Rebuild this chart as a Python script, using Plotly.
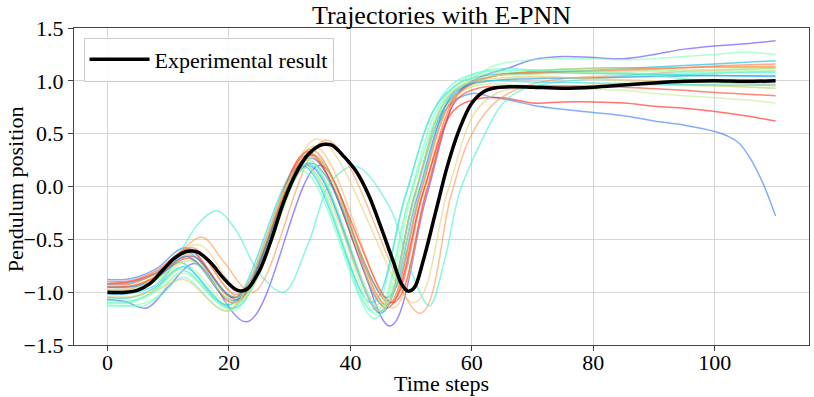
import math
import plotly.graph_objects as go

# Experimental (reference) pendulum trajectory, (time step, position)
EXPERIMENT = [
    (0, -1.0), (3, -1.0), (5, -0.98), (7, -0.92), (9, -0.8), (11, -0.68), (13, -0.615),
    (14, -0.61), (15, -0.625), (17, -0.72), (19, -0.86), (21, -0.97), (22, -0.99),
    (23, -0.97), (25, -0.8), (27, -0.5), (29, -0.15), (31, 0.12), (33, 0.3), (35, 0.39),
    (36, 0.4), (37, 0.39), (39, 0.28), (41, 0.14), (43, -0.08), (45, -0.38), (47, -0.7),
    (48.5, -0.93), (49.5, -0.99), (50.5, -0.96), (52, -0.7), (54, -0.25), (56, 0.2),
    (58, 0.55), (60, 0.79), (62, 0.9), (64, 0.935), (67, 0.945), (70, 0.94), (75, 0.93),
    (80, 0.94), (85, 0.96), (90, 0.98), (95, 0.995), (100, 1.0), (105, 0.995), (110, 1.0),
]

# E-PNN predicted trajectories, keypoints
RUN_01 = [(0, -1.07), (3, -1.09), (6.5, -1.15), (10, -0.95), (14.5, -0.73), (23, -1.28), (35, 0.2),
          (46.5, -1.32), (52.5, -0.1), (58, 0.9), (62, 1.05), (66, 1.12), (70, 1.2), (75, 1.23),
          (80, 1.22), (85, 1.21), (90, 1.25), (95, 1.3), (100, 1.33), (105, 1.35), (110, 1.38)]
RUN_02 = [(0, -0.88), (4, -0.87), (8, -0.78), (13, -0.58), (21, -1.05), (33.5, 0.27), (45.5, -1.12),
          (51, -0.1), (56, 0.75), (60, 0.88), (63, 0.85), (66, 0.82), (70, 0.77), (75, 0.73),
          (80, 0.7), (85, 0.67), (90, 0.62), (95, 0.58), (100, 0.52), (102, 0.48), (104, 0.41),
          (106, 0.25), (108, 0.02), (110, -0.28)]
RUN_03 = [(0, -0.92), (4, -0.9), (8, -0.82), (14, -0.66), (21.5, -1.07), (33, 0.33), (46, -1.15),
          (52, -0.05), (57, 0.72), (61, 0.83), (65, 0.84), (70, 0.79), (75, 0.8), (80, 0.8),
          (85, 0.79), (90, 0.76), (95, 0.74), (100, 0.71), (105, 0.67), (110, 0.62)]
RUN_04 = [(0, -1.1), (4, -1.09), (8, -0.97), (12, -0.62), (15, -0.35), (18, -0.23), (21, -0.4),
          (25, -0.82), (29, -1.0), (33, -0.55), (37, 0.06), (41, 0.19), (46.5, -0.2), (50, -0.8),
          (53, -1.13), (55.5, -0.7), (58, -0.05), (61.5, 0.42), (65, 0.78), (68, 0.91), (72, 0.97),
          (80, 1.02), (85, 1.04), (90, 1.05), (95, 1.06), (100, 1.07), (105, 1.08), (110, 1.08)]
RUN_05 = [(0, -0.98), (4, -0.97), (9, -0.8), (15.5, -0.48), (19, -0.7), (24, -1.0), (36, 0.44),
          (51.5, -1.2), (56.5, -0.1), (59.5, 0.44), (63, 0.75), (66, 0.88), (70, 0.97), (75, 1.02),
          (80, 1.04), (85, 1.05), (90, 1.07), (95, 1.09), (100, 1.1), (105, 1.11), (110, 1.12)]
RUN_06 = [(0, -1.12), (5, -1.12), (8, -1.05), (12.5, -0.8), (20.5, -1.15), (32.5, 0.2), (44, -1.2),
          (49.5, -0.15), (54, 0.62), (57, 0.9), (60, 1.02), (64, 1.15), (70, 1.2), (75, 1.21),
          (80, 1.21), (85, 1.2), (90, 1.21), (95, 1.23), (100, 1.25), (105, 1.27), (110, 1.25)]
RUN_07 = [(0, -1.05), (5, -1.04), (9, -0.92), (13, -0.75), (21, -1.12), (33, 0.25), (45, -1.15),
          (50.5, -0.1), (55.5, 0.75), (59, 0.92), (63, 0.97), (70, 0.95), (75, 0.93), (80, 0.92),
          (85, 0.91), (90, 0.88), (95, 0.86), (100, 0.84), (105, 0.82), (110, 0.79)]
RUN_08 = [(0, -0.95), (5, -0.93), (9, -0.78), (15, -0.55), (22.5, -1.02), (34.5, 0.45), (50.5, -1.1),
          (56, -0.05), (60.5, 0.7), (64, 0.88), (68, 0.94), (75, 0.95), (80, 0.96), (90, 0.96),
          (100, 0.95), (110, 0.93)]
RUN_09 = [(0, -0.9), (4, -0.89), (8, -0.8), (13.5, -0.6), (21, -1.05), (33, 0.3), (46.5, -1.1),
          (52, -0.05), (57, 0.82), (60, 0.98), (64, 1.05), (70, 1.09), (75, 1.11), (80, 1.12),
          (90, 1.12), (100, 1.13), (110, 1.13)]
RUN_10 = [(0, -0.92), (4, -0.91), (8, -0.82), (13, -0.62), (21.5, -1.05), (33.5, 0.22), (46, -1.05),
          (51.5, -0.05), (56.5, 0.85), (60, 0.98), (64, 1.05), (70, 1.07), (80, 1.1), (90, 1.13),
          (100, 1.16), (110, 1.19)]
RUN_11 = [(0, -1.02), (4, -1.01), (8, -0.93), (12, -0.72), (20, -1.12), (32, 0.2), (43.5, -1.1),
          (49, -0.1), (54, 0.75), (58, 0.98), (62, 1.05), (70, 1.08), (80, 1.07), (90, 1.06),
          (100, 1.05), (110, 1.05)]
RUN_12 = [(0, -1.08), (4, -1.08), (8, -0.98), (12, -0.78), (20.5, -1.15), (32.5, 0.18), (43.5, -1.17),
          (49, -0.1), (53.5, 0.7), (57, 0.98), (61, 1.08), (66, 1.12), (70, 1.1), (80, 1.08),
          (90, 1.07), (100, 1.08), (110, 1.09)]
RUN_13 = [(0, -1.1), (4, -1.1), (8, -1.0), (12.5, -0.82), (21, -1.17), (33, 0.26), (44.5, -1.22),
          (50, -0.1), (54.5, 0.72), (58, 0.98), (62, 1.06), (70, 1.1), (80, 1.12), (90, 1.1),
          (100, 1.11), (110, 1.12)]
RUN_14 = [(0, -1.0), (4, -0.99), (8, -0.9), (14, -0.7), (21.5, -1.08), (34, 0.3), (46, -1.12),
          (51.5, -0.05), (56.5, 0.8), (60, 0.95), (66, 1.02), (75, 1.03), (85, 1.0), (95, 0.97),
          (110, 0.93)]
RUN_15 = [(0, -0.97), (4, -0.96), (8, -0.85), (14.5, -0.63), (22, -1.05), (34, 0.38), (47, -1.15),
          (52.5, -0.05), (57.5, 0.85), (61, 1.0), (65, 1.06), (70, 1.08), (80, 1.1), (90, 1.12),
          (100, 1.13), (110, 1.14)]
RUN_16 = [(0, -0.93), (4, -0.92), (8, -0.82), (14, -0.58), (21.5, -1.02), (33.5, 0.35), (46, -1.12),
          (51.5, -0.08), (56.5, 0.8), (60, 0.97), (64, 1.05), (70, 1.08), (80, 1.09), (90, 1.11),
          (100, 1.14), (110, 1.16)]
RUN_17 = [(0, -0.95), (4, -0.94), (8, -0.86), (13.5, -0.68), (21, -1.1), (33.5, 0.3), (47, -1.1),
          (52.5, -0.05), (57.5, 0.82), (61, 0.93), (66, 0.95), (75, 0.95), (85, 0.94), (95, 0.91),
          (100, 0.89), (110, 0.86)]
RUN_18 = [(0, -0.95), (4, -0.95), (8, -0.88), (13, -0.66), (21, -1.08), (33, 0.2), (45, -1.2),
          (50.5, -0.1), (55.5, 0.75), (59, 0.95), (63, 1.0), (70, 1.02), (80, 1.03), (90, 1.04),
          (100, 1.05), (110, 1.04)]
RUN_19 = [(0, -1.13), (3, -1.13), (6, -1.13), (9, -1.02), (12.5, -0.86), (20, -1.18), (32, 0.15),
          (44, -1.25), (49.5, -0.15), (54, 0.7), (57.5, 0.97), (61, 1.07), (66, 1.1), (75, 1.1),
          (85, 1.08), (95, 1.02), (110, 0.95)]
RUN_20 = [(0, -1.05), (4, -1.05), (8, -0.95), (12.5, -0.76), (21, -1.15), (33, 0.22), (45, -1.18),
          (50.5, -0.1), (55.5, 0.8), (59, 0.97), (63, 1.0), (70, 0.99), (80, 0.98), (90, 0.97),
          (100, 0.96), (110, 0.96)]
RUN_21 = [(0, -1.04), (4, -1.04), (8, -0.98), (12.5, -0.88), (20, -1.17), (32.5, 0.2), (45, -1.18),
          (50.5, -0.1), (55.5, 0.8), (59, 0.97), (63, 1.02), (70, 1.04), (80, 1.02), (90, 1.0),
          (100, 0.98), (110, 0.97)]
RUN_22 = [(0, -0.98), (4, -0.97), (8, -0.88), (13.5, -0.7), (21.5, -1.1), (34, 0.28), (45.5, -1.12),
          (51, -0.05), (56, 0.85), (59.5, 1.0), (64, 1.05), (70, 1.06), (80, 1.08), (90, 1.09),
          (100, 1.09), (110, 1.1)]

RUNS = [RUN_01, RUN_02, RUN_03, RUN_04, RUN_05, RUN_06, RUN_07, RUN_08, RUN_09, RUN_10, RUN_11,
        RUN_12, RUN_13, RUN_14, RUN_15, RUN_16, RUN_17, RUN_18, RUN_19, RUN_20, RUN_21, RUN_22]

# position of each run on the rainbow colormap (style only)
CMAP_POS = [0.08, 0.16, 0.97, 0.38, 0.8, 0.5, 0.62, 0.7, 0.9, 0.25, 0.3,
            0.42, 0.55, 0.66, 0.75, 0.85, 0.93, 0.2, 0.45, 0.33, 0.72, 0.6]

FONT = "Liberation Serif, Times New Roman, serif"


def rainbow(c, alpha):
    r = min(1.0, abs(2 * c - 0.5))
    g = math.sin(math.pi * c)
    b = math.cos(math.pi * c / 2)
    return f"rgba({int(r * 255)},{int(g * 255)},{int(b * 255)},{alpha})"


fig = go.Figure()
for run, c in zip(RUNS, CMAP_POS):
    fig.add_trace(go.Scatter(
        x=[p[0] for p in run], y=[p[1] for p in run], mode="lines",
        line=dict(color=rainbow(c, 0.6), width=1.5, shape="spline"),
        showlegend=False, hoverinfo="skip",
    ))

fig.add_trace(go.Scatter(
    x=[p[0] for p in EXPERIMENT], y=[p[1] for p in EXPERIMENT], mode="lines",
    name="Experimental result", line=dict(color="black", width=3.5, shape="spline"),
))

AXIS = dict(
    showgrid=True, gridcolor="#d6d6d6", gridwidth=1.2, zeroline=False,
    showline=True, mirror=True, linecolor="#444444", linewidth=1.2,
    ticks="outside", ticklen=5, tickcolor="#444444", automargin=False,
    tickfont=dict(size=22, family=FONT, color="black"),
)

fig.update_layout(
    width=814, height=397,
    margin=dict(l=74, r=5, t=28, b=52),
    paper_bgcolor="white", plot_bgcolor="white",
    font=dict(family=FONT, size=22, color="black"),
    title=dict(text="Trajectories with E-PNN", x=0.5, xref="paper", xanchor="center",
               y=1 - 15 / 397, yref="container", yanchor="middle",
               font=dict(size=26), automargin=False),
    xaxis=dict(**AXIS, range=[-5.5, 115.5], tick0=0, dtick=20, ticklabelstandoff=-8),
    yaxis=dict(**AXIS, range=[-1.5, 1.5], dtick=0.5, tickformat=".1f"),
    legend=dict(x=0.013, y=0.97, xanchor="left", yanchor="top",
                bgcolor="rgba(255,255,255,0.85)", bordercolor="#cccccc", borderwidth=1,
                font=dict(size=22), itemwidth=60),
    annotations=[
        dict(text="Time steps", xref="paper", yref="paper", x=0.5, y=-0.12,
             xanchor="center", yanchor="middle", showarrow=False, font=dict(size=22)),
        dict(text="Pendulum position", xref="paper", yref="paper", x=-0.08, y=0.492,
             xanchor="center", yanchor="middle", textangle=-90, showarrow=False,
             font=dict(size=22)),
    ],
)

fig.write_html("out.html", config={"displayModeBar": False},
               post_script="document.body.style.margin='0';")
